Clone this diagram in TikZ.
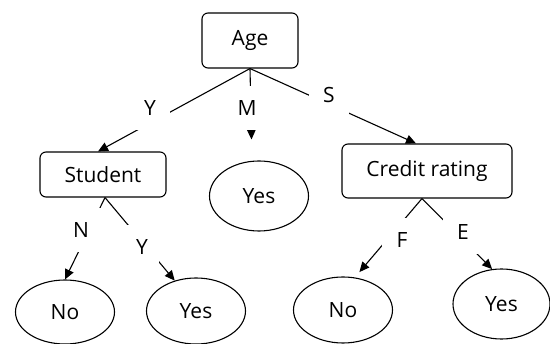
\documentclass[tikz,border=0pt]{standalone}
\usepackage{fontspec}
\setmainfont{Open Sans}
\usetikzlibrary{shapes.geometric,arrows.meta}

\begin{document}
\begin{tikzpicture}[x=1pt,y=-1pt,line width=1.1pt,
    font=\fontsize{21}{25}\selectfont,
    box/.style={draw,rounded corners=6pt,inner sep=0pt},
    leaf/.style={draw,ellipse,minimum width=99pt,minimum height=66pt,inner sep=0pt},
    lbl/.style={fill=white,minimum width=40pt,minimum height=44pt,inner sep=0pt},
    arr/.style={-{Triangle[length=10pt,width=9pt]}}]
    \useasboundingbox (0,0) rectangle (550,344);

    \node[box,minimum width=96pt,minimum height=55pt] (age) at (250,40.5) {Age};
    \node[box,minimum width=126pt,minimum height=45pt] (student) at (103,174.5) {Student};
    \node[box,minimum width=170pt,minimum height=54pt] (credit) at (427,171) {Credit rating};

    \node[leaf,minimum height=70pt] (yesM) at (259,196) {Yes};
    \node[leaf,minimum height=64pt] (noS) at (65,312) {No};
    \node[leaf] (yesS) at (196,311) {Yes};
    \node[leaf] (noC) at (343,310) {No};
    \node[leaf,minimum width=97pt,minimum height=70pt] (yesC) at (501.5,304) {Yes};

    \draw[arr] (age.south) -- ([xshift=-5pt]student.north);
    \draw[arr,shorten >=21pt] (age.south) -- ([xshift=-7pt]yesM.north);
    \draw[arr] (age.south) -- ([xshift=-11pt]credit.north);
    \draw[arr] ([xshift=2pt]student.south) -- (noS.north);
    \draw[arr] ([xshift=2pt]student.south) -- (yesS.125);
    \draw[arr,shorten >=7pt] ([xshift=-5pt]credit.south) -- (noC.70);
    \draw[arr] ([xshift=-5pt]credit.south) -- (yesC.105);

    \node[lbl] (lY) at (150,108) {Y};
    \node[lbl] (lM) at (247,108) {M};
    \node[lbl] (lS) at (329,95) {S};
    \node[lbl] (lN) at (81,230) {N};
    \node[lbl,minimum width=34pt] (lYs) at (142,247) {Y};
    \node[lbl] (lF) at (402,240) {F};
    \node[lbl] (lE) at (463,232) {E};
  \end{tikzpicture}
\end{document}
